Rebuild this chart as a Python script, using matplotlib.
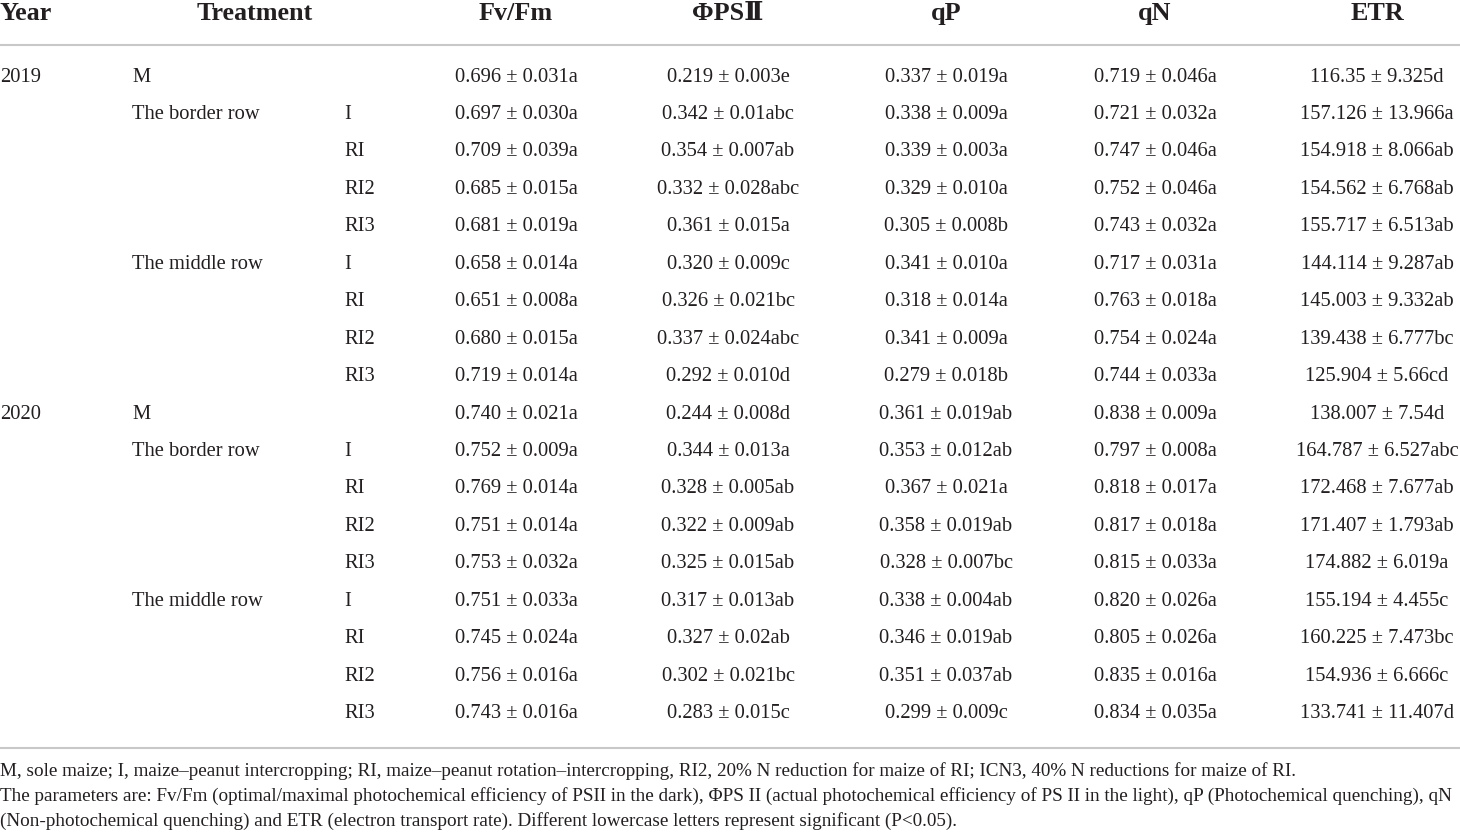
import matplotlib.pyplot as plt

# table contents
years = ['2019', '', '', '', '', '', '', '', '',
         '2020', '', '', '', '', '', '', '', '']
groups = ['M', 'The border row', '', '', '', 'The middle row', '', '', '',
          'M', 'The border row', '', '', '', 'The middle row', '', '', '']
subs = ['', 'I', 'RI', 'RI2', 'RI3', 'I', 'RI', 'RI2', 'RI3',
        '', 'I', 'RI', 'RI2', 'RI3', 'I', 'RI', 'RI2', 'RI3']

fvfm = ['0.696 ± 0.031a', '0.697 ± 0.030a', '0.709 ± 0.039a', '0.685 ± 0.015a',
        '0.681 ± 0.019a', '0.658 ± 0.014a', '0.651 ± 0.008a', '0.680 ± 0.015a',
        '0.719 ± 0.014a', '0.740 ± 0.021a', '0.752 ± 0.009a', '0.769 ± 0.014a',
        '0.751 ± 0.014a', '0.753 ± 0.032a', '0.751 ± 0.033a', '0.745 ± 0.024a',
        '0.756 ± 0.016a', '0.743 ± 0.016a']
phipsii = ['0.219 ± 0.003e', '0.342 ± 0.01abc', '0.354 ± 0.007ab', '0.332 ± 0.028abc',
           '0.361 ± 0.015a', '0.320 ± 0.009c', '0.326 ± 0.021bc', '0.337 ± 0.024abc',
           '0.292 ± 0.010d', '0.244 ± 0.008d', '0.344 ± 0.013a', '0.328 ± 0.005ab',
           '0.322 ± 0.009ab', '0.325 ± 0.015ab', '0.317 ± 0.013ab', '0.327 ± 0.02ab',
           '0.302 ± 0.021bc', '0.283 ± 0.015c']
qp = ['0.337 ± 0.019a', '0.338 ± 0.009a', '0.339 ± 0.003a', '0.329 ± 0.010a',
      '0.305 ± 0.008b', '0.341 ± 0.010a', '0.318 ± 0.014a', '0.341 ± 0.009a',
      '0.279 ± 0.018b', '0.361 ± 0.019ab', '0.353 ± 0.012ab', '0.367 ± 0.021a',
      '0.358 ± 0.019ab', '0.328 ± 0.007bc', '0.338 ± 0.004ab', '0.346 ± 0.019ab',
      '0.351 ± 0.037ab', '0.299 ± 0.009c']
qn = ['0.719 ± 0.046a', '0.721 ± 0.032a', '0.747 ± 0.046a', '0.752 ± 0.046a',
      '0.743 ± 0.032a', '0.717 ± 0.031a', '0.763 ± 0.018a', '0.754 ± 0.024a',
      '0.744 ± 0.033a', '0.838 ± 0.009a', '0.797 ± 0.008a', '0.818 ± 0.017a',
      '0.817 ± 0.018a', '0.815 ± 0.033a', '0.820 ± 0.026a', '0.805 ± 0.026a',
      '0.835 ± 0.016a', '0.834 ± 0.035a']
etr = ['116.35 ± 9.325d', '157.126 ± 13.966a', '154.918 ± 8.066ab', '154.562 ± 6.768ab',
       '155.717 ± 6.513ab', '144.114 ± 9.287ab', '145.003 ± 9.332ab', '139.438 ± 6.777bc',
       '125.904 ± 5.66cd', '138.007 ± 7.54d', '164.787 ± 6.527abc', '172.468 ± 7.677ab',
       '171.407 ± 1.793ab', '174.882 ± 6.019a', '155.194 ± 4.455c', '160.225 ± 7.473bc',
       '154.936 ± 6.666c', '133.741 ± 11.407d']

headers = ['Year', 'Treatment', 'Fv/Fm', 'ΦPSⅡ', 'qP', 'qN', 'ETR']
footnotes = [
    'M, sole maize; I, maize–peanut intercropping; RI, maize–peanut rotation–intercropping, '
    'RI2, 20% N reduction for maize of RI; ICN3, 40% N reductions for maize of RI.',
    'The parameters are: Fv/Fm (optimal/maximal photochemical efficiency of PSII in the dark), '
    'ΦPS II (actual photochemical efficiency of PS II in the light), qP (Photochemical quenching), qN',
    '(Non-photochemical quenching) and ETR (electron transport rate). '
    'Different lowercase letters represent significant (P<0.05).',
]

plt.rcParams['font.family'] = ['Liberation Serif', 'DejaVu Serif']
txt = '#231f20'

fig = plt.figure(figsize=(14.6, 8.32), dpi=100)
ax = fig.add_axes([0, 0, 1, 1])
ax.set_xlim(0, 1460)
ax.set_ylim(832, 0)
ax.axis('off')

# header
hx = [0, 255, 516, 728, 946, 1155, 1377]
ha = ['left', 'center', 'center', 'center', 'center', 'center', 'center']
for x, h, a in zip(hx, headers, ha):
    ax.text(x, 20, h, ha=a, va='baseline', fontsize=18.8, fontweight='bold', color=txt)

ax.plot([0, 1460], [45, 45], color='#c8c8c8', lw=1.5)
ax.plot([0, 1460], [748, 748], color='#c8c8c8', lw=1.5)

y0, dy = 77, 37.45
cols = [fvfm, phipsii, qp, qn, etr]
fs = 14.8
for i in range(len(years)):
    y = y0 + dy * i
    ax.text(0, y, years[i], ha='left', va='center', fontsize=fs, color=txt)
    ax.text(132, y, groups[i], ha='left', va='center', fontsize=fs, color=txt)
    ax.text(344, y, subs[i], ha='left', va='center', fontsize=fs, color=txt)
    for x, col in zip(hx[2:], cols):
        ax.text(x, y, col[i], ha='center', va='center', fontsize=fs, color=txt)

for k, line in enumerate(footnotes):
    ax.text(0, 771 + 25 * k, line, ha='left', va='center', fontsize=13.8, color=txt)

fig.savefig('out.png', dpi=100)
